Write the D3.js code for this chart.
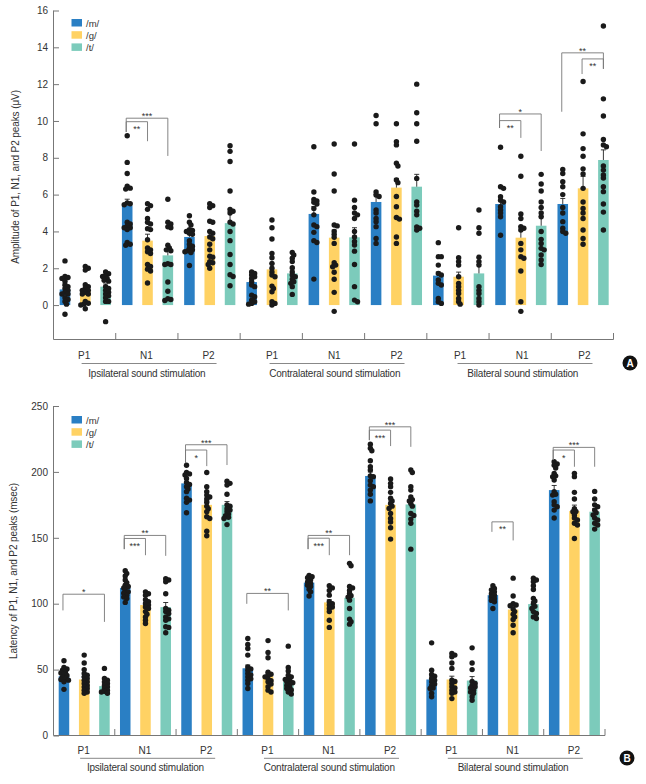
<!DOCTYPE html>
<html>
<head>
<meta charset="utf-8">
<script src="https://cdn.jsdelivr.net/npm/d3@7"></script>
<style>
  html, body { margin: 0; padding: 0; background: #fff; }
  svg { display: block; }
  text { font-family: "Liberation Sans", Arial, sans-serif; fill: #333; }
</style>
</head>
<body>
<svg id="chart" width="646" height="784"></svg>
<script>
const peaks = ["P1", "N1", "P2", "P1 ", "N1 ", "P2 ", "P1  ", "N1  ", "P2  "];
const sounds = ["/m/", "/g/", "/t/"];
const colors = ["#2a7fc4", "#ffd264", "#7ccbbb"];
const stimulations = ["Ipsilateral sound stimulation", "Contralateral sound stimulation", "Bilateral sound stimulation"];

// panel A, mean and SE per peak, [m, g, t]
const ampMeans = [
  [0.85, 0.85, 1.0], [5.4, 3.5, 2.7], [3.7, 3.75, 4.45],
  [1.25, 1.94, 1.72], [4.95, 3.66, 3.68], [5.6, 6.38, 6.43],
  [1.6, 1.54, 1.72], [5.49, 3.66, 4.31], [5.49, 6.34, 7.88]
];
const ampErrors = [
  [0.2, 0.15, 0.15], [0.35, 0.35, 0.3], [0.25, 0.25, 0.65],
  [0.2, 0.32, 0.25], [0.4, 0.42, 0.52], [0.4, 0.5, 0.67],
  [0.2, 0.25, 0.5], [0.25, 0.6, 0.5], [0.3, 0.65, 0.55]
];
const ampPoints = [
  [[2.4, 1.55, 1.5, 1.45, 1.3, 1.1, 1.0, 0.9, 0.8, 0.7, 0.6, 0.6, 0.4, 0.3, 0.2, 0.05, -0.5],
   [2.1, 2.0, 1.9, 1.1, 1.0, 0.9, 0.8, 0.8, 0.7, 0.6, 0.6, 0.2, 0.1, 0.05, 0, -0.2],
   [1.8, 1.7, 1.6, 1.55, 1.45, 1.35, 1.3, 1.0, 0.9, 0.8, 0.7, 0.6, 0.5, 0.4, 0.2, 0.2, -0.9]],
  [[9.2, 7.75, 7.15, 6.45, 6.35, 6.3, 5.55, 5.5, 5.45, 4.5, 4.4, 4.3, 4.2, 4.2, 4.1, 3.4, 3.3, 3.25],
   [5.5, 5.4, 5.2, 4.7, 4.5, 4.4, 4.15, 4.1, 3.55, 3.1, 3.0, 2.9, 2.8, 2.2, 2.1, 1.95, 1.85, 1.2],
   [5.75, 4.5, 4.4, 4.25, 4.2, 3.25, 3.1, 3.0, 2.95, 2.25, 2.2, 2.2, 1.25, 0.75, 0.35, 0.3, 0.25]],
  [[4.85, 4.5, 4.35, 4.1, 4.05, 4, 3.9, 3.85, 3.5, 3.3, 3.2, 3.1, 3, 2.95, 2.9, 2.85, 2.15],
   [5.5, 5.4, 5.3, 4.55, 4.5, 4.0, 3.9, 3.7, 3.6, 3.3, 3.0, 2.65, 2.6, 2.35, 2.3, 2.2, 2.0],
   [8.65, 8.35, 7.8, 6.2, 5.2, 5.1, 5.0, 4.5, 4.4, 4.0, 3.5, 2.75, 2.2, 1.65, 1.55, 1.05]],
  [[1.8, 1.72, 1.63, 1.54, 1.45, 1.27, 1.09, 1.0, 0.54, 0.45, 0.27, 0.18, 0.09, 0.05],
   [4.62, 4.2, 3.59, 2.8, 2.57, 2.26, 2, 1.8, 1.63, 1.54, 1.03, 0.9, 0.72, 0.18, 0.09, 0],
   [2.86, 2.72, 2.54, 2.36, 2.03, 1.8, 1.63, 1.54, 1.4, 1.27, 1.18, 1, 0.58]],
  [[8.6, 6.14, 5.74, 5.65, 5.58, 5.49, 5.25, 4.9, 4.35, 4.26, 3.95, 3.5, 3.4, 1.41],
   [8.75, 7.12, 6.2, 4.35, 4.3, 4, 3.84, 3.68, 3.35, 2.3, 2.17, 2.08, 1.78, 1.4, 0.69, -0.34],
   [8.75, 5.7, 5.3, 5, 4.9, 4.7, 4, 3.7, 3.45, 3.26, 2.93, 2.2, 1, 0.27, 0.18]],
  [[10.3, 9.85, 6.14, 5.98, 5.9, 5.16, 5, 4.7, 4.53, 4.26, 3.62, 3.35],
   [9.85, 8.88, 8.7, 7.7, 7.55, 6.8, 6.65, 5.9, 5.34, 4.76, 4.67, 3.7, 3.35],
   [12, 10.45, 9.85, 8.9, 6.88, 5.6, 5.43, 5.1, 4.9, 4.25, 4.17, 4.08]],
  [[3.39, 2.63, 2.63, 2.17, 1.72, 1.63, 1.36, 1.18, 1.09, 0.36, 0.18, 0.09],
   [4.2, 2.57, 2.36, 2.17, 1.54, 1.18, 1, 0.8, 0.63, 0.36, 0.18, 0.05],
   [5.16, 4.2, 3.9, 2.6, 2.36, 2.17, 1, 0.8, 0.63, 0.36, 0.18, 0]],
  [[8.57, 6.43, 6.34, 5.89, 5.7, 5.6, 5.34, 5.16, 5, 4.8, 3.79],
   [8.08, 7, 4.95, 4.7, 4.26, 4.17, 4.08, 3.35, 3, 2.63, 2.54, 1.85, 0.18, -0.34],
   [7.1, 6.58, 6.2, 5.6, 5.3, 5, 4.8, 4, 3.57, 3.35, 3.08, 3, 2.72, 2.45, 2.2]],
  [[7.37, 7.15, 6.7, 6.43, 6, 5.3, 5, 4.53, 4.17, 4, 3.9],
   [12.14, 9.3, 8.5, 8.08, 7.4, 7.12, 6.34, 5.6, 5.25, 5, 4.7, 4.08, 3.62, 3.3],
   [15.16, 11.2, 10.27, 9, 8.7, 8.6, 7.55, 7.33, 7.07, 6.9, 6.43, 6.16, 5.49, 5.05, 4.08]]
];

// panel B
const latMeans = [
  [45, 42.5, 37.5], [112, 99, 97.4], [191.3, 175, 175],
  [51, 45, 40.7], [116, 101, 104.5], [196.9, 175, 175.3],
  [42.5, 42.5, 41.7], [106.5, 95.6, 99.7], [186.2, 170.3, 169.8]
];
const latErrors = [
  [2, 2, 2], [2, 2, 3.5], [3, 3, 2.5],
  [2.5, 2.5, 2], [1.5, 2, 3], [3, 3, 3],
  [2.5, 2.5, 3], [1.5, 2, 2], [3.5, 4.5, 2.5]
];
const latPoints = [
  [[56.7, 51.6, 50.5, 49.6, 48.3, 47.5, 46.3, 45.5, 44.5, 43.3, 42.5, 42, 40.7, 35],
   [61, 55, 50, 47, 45.8, 44.5, 43.3, 42, 40.7, 39.5, 38, 36.8, 35.7, 34.4, 33, 32],
   [50.9, 43.3, 42, 40.7, 39.5, 38, 37, 35.7, 34.4, 33.5, 33, 32]],
  [[125, 123, 121, 118, 116, 114, 113, 112, 110, 109, 108, 106.5, 105, 104, 101],
   [109, 107.5, 106.5, 103, 101.5, 100, 99, 97.5, 96.4, 94, 92, 90, 87.5, 85],
   [119, 118, 116.6, 107.5, 96.4, 95, 94, 92.5, 90, 88.5, 87.5, 82.5, 82, 78]],
  [[205, 199.6, 198.5, 197.6, 195, 192, 190.5, 188.8, 187, 185, 180, 178.6, 177, 169],
   [199.6, 188.8, 185, 182.4, 181, 179.4, 177, 174, 172, 169.8, 166, 164.7, 155, 151.6],
   [193, 191.3, 190, 183, 175, 174, 172, 171, 169.8, 168, 166.7, 165.5, 164.7, 160]],
  [[73.6, 69, 66, 61, 52, 50.5, 49.6, 47, 46, 44.5, 43, 42, 39.5, 35.7],
   [72, 63, 59, 48, 46.5, 45.8, 44.5, 43, 41.5, 40.7, 39, 37, 34.4, 33],
   [67.8, 51.6, 49, 45.8, 44.5, 43.3, 42.5, 41.5, 40.7, 40, 39, 38, 36.5, 35.7, 34.5, 33, 31.4]],
  [[121.5, 120.5, 119.7, 118, 116.5, 115.4, 114, 113, 111, 109, 105.8],
   [113.6, 112, 110, 106.5, 101.5, 100, 99, 97.5, 96.4, 94, 87.5, 82],
   [130.6, 128.8, 113, 112, 110, 107.8, 106, 105, 102.7, 96.4, 88.3, 86.3, 84.5]],
  [[221, 217.9, 216, 208.5, 204, 201.4, 197, 196.4, 193.3, 190, 188.8, 186.2, 183, 178],
   [194.6, 191.3, 188.8, 184.5, 180, 178, 176, 174, 172.3, 168.5, 164.7, 162, 157.6, 149],
   [201.4, 199.6, 188.8, 186.2, 181, 179, 178, 176, 174, 168.5, 167, 164.2, 161, 141.4]],
  [[70.3, 49.6, 46.3, 45, 43.3, 42, 40.7, 39, 38, 36, 35.7, 32, 29.4],
   [62.2, 61, 59.7, 55, 50.9, 42, 41, 39.5, 37, 36, 34.4, 33, 32, 28],
   [66.5, 55, 50, 41, 39.5, 38, 37, 36, 34.4, 33, 32, 29.4, 26.8]],
  [[113.6, 111.6, 110.5, 109, 107.5, 106.5, 105, 104, 102.5, 101.5, 96.4],
   [119.4, 105.8, 100, 99, 98.4, 96, 94, 92, 90, 88, 83.7, 78],
   [119.4, 118, 116.6, 113.6, 110.8, 104, 102, 100, 98, 96.4, 94, 92.6, 90, 88.8]],
  [[207.7, 206, 205, 203, 198.9, 197, 196.4, 193.8, 185, 183, 182.4, 177.4, 175, 173.6, 171, 165],
   [198.9, 196.4, 184.5, 179.4, 172, 170, 169.8, 167.3, 165, 163.5, 161, 159.7, 149.5],
   [185.2, 179.4, 175, 173.6, 171, 169, 167.3, 165, 163.5, 161, 159.7, 156.6]]
];

// bracket: peak index, from sound, to sound, top value, left leg end, right leg end, stars
const ampBrackets = [
  [1, 0, 2, 10.15, 9.4, 8.1, "***"],
  [1, 0, 1, 9.96, 9.4, 8.9, "**"],
  [7, 0, 2, 10.38, 9.62, 8.37, "*"],
  [7, 0, 1, 10.02, 9.62, 9.08, "**"],
  [8, 0, 2, 13.7, 10.5, 12.83, "**"],
  [8, 1, 2, 13.37, 12.55, 12.83, "**"]
];
const latBrackets = [
  [0, 0, 2, 107.2, 94.9, 86.2, "*"],
  [1, 0, 2, 151.8, 141.4, 136.3, "**"],
  [1, 0, 1, 149.5, 141.4, 136.8, "***"],
  [2, 0, 2, 220.6, 206.7, 205.2, "***"],
  [2, 0, 1, 216.6, 206.7, 204.4, "*"],
  [3, 0, 2, 107.8, 99.9, 94.9, "**"],
  [4, 0, 2, 151.8, 141.4, 136.8, "**"],
  [4, 0, 1, 149.7, 141.4, 136.8, "***"],
  [5, 0, 2, 234.2, 224.1, 219, "***"],
  [5, 0, 1, 231.7, 224.1, 219.6, "***"],
  [7, 0, 1, 162.1, 154.5, 148, "**"],
  [8, 0, 2, 218.6, 209, 203.9, "***"],
  [8, 0, 1, 216.6, 209, 203.9, "*"]
];

const ampTicks = [0, 2, 4, 6, 8, 10, 12, 14, 16];
const latTicks = [0, 50, 100, 150, 200, 250];

const svg = d3.select("svg#chart");
const dotR = 2.7;

// nudge points sideways until they stop sitting on top of each other
function dodge(values, y, cx) {
  let placed = [];
  values.slice().sort((a, b) => b - a).forEach((v) => {
    let py = y(v);
    let tries = [0, 1.5, -1.5, 3, -3, 4.5, -4.5, 6, -6];
    let px = cx;
    for (let t of tries) {
      let free = placed.every((p) => Math.hypot(p.x - (cx + t), p.y - py) >= 2.8);
      if (free) { px = cx + t; break; }
    }
    placed.push({ x: px, y: py });
  });
  return placed;
}

function drawPanel(cfg) {
  let g = svg.append("g");

  let x0 = d3.scaleBand().domain(peaks).range(cfg.xRange);
  let x1 = d3.scaleBand().domain(d3.range(3)).range(cfg.innerRange).paddingInner(0.48);
  let y = d3.scaleLinear().domain(cfg.yDomain).range(cfg.yRange);

  let center = (i, s) => x0(peaks[i]) + x1(s) + x1.bandwidth() / 2;

  // bars
  cfg.means.forEach((row, i) => {
    row.forEach((m, s) => {
      g.append("rect")
        .attr("x", x0(peaks[i]) + x1(s))
        .attr("y", y(m))
        .attr("width", x1.bandwidth())
        .attr("height", y(0) - y(m))
        .attr("fill", colors[s]);
    });
  });

  // error bars
  cfg.means.forEach((row, i) => {
    row.forEach((m, s) => {
      let cx = center(i, s);
      let top = y(m + cfg.errors[i][s]);
      g.append("path")
        .attr("d", "M" + cx + "," + y(m) + "V" + top + "M" + (cx - 2.5) + "," + top + "H" + (cx + 2.5))
        .attr("stroke", "#222")
        .attr("stroke-width", 0.9)
        .attr("fill", "none");
    });
  });

  // points
  cfg.points.forEach((row, i) => {
    row.forEach((vals, s) => {
      g.append("g")
        .selectAll("circle")
        .data(dodge(vals, y, center(i, s)))
        .enter()
        .append("circle")
        .attr("cx", (d) => d.x)
        .attr("cy", (d) => d.y)
        .attr("r", dotR)
        .attr("fill", "#1a1a1a");
    });
  });

  // axes
  let axisColor = "#777";
  let yAxis = g.append("g")
    .attr("transform", "translate(" + cfg.xRange[0] + ",0)")
    .call(d3.axisLeft(y).tickValues(cfg.ticks).tickSize(-5.5).tickPadding(5.5));
  yAxis.select(".domain").attr("d", "M0," + cfg.yRange[0] + "V" + cfg.yRange[1]).attr("stroke", axisColor);
  yAxis.selectAll("line").attr("stroke", axisColor);
  yAxis.selectAll("text").attr("font-size", 10).attr("fill", "#333").style("font-family", '"Liberation Sans"');

  let base = cfg.yRange[0];
  g.append("line")
    .attr("x1", cfg.xRange[0]).attr("x2", cfg.xRange[1])
    .attr("y1", base).attr("y2", base)
    .attr("stroke", axisColor);
  peaks.forEach((p, i) => {
    let tx = x0(p) + x0.bandwidth();
    g.append("line")
      .attr("x1", tx).attr("x2", tx)
      .attr("y1", base).attr("y2", base - 6.5)
      .attr("stroke", axisColor);
    g.append("text")
      .attr("x", x0(p) + x0.bandwidth() / 2 - 0.5 + Math.floor(i / 3) * cfg.groupShift)
      .attr("y", base + cfg.peakLabel)
      .attr("text-anchor", "middle")
      .attr("font-size", 10)
      .text(p.trim());
  });

  // stimulation groups under the axis
  stimulations.forEach((name, k) => {
    let shift = k * cfg.groupShift;
    let a = x0(peaks[k * 3]) + x0.bandwidth() / 2 + cfg.groupInset[0] + shift;
    let b = x0(peaks[k * 3 + 2]) + x0.bandwidth() / 2 + cfg.groupInset[1] + shift;
    let gy = base + cfg.groupLine;
    g.append("line")
      .attr("x1", a).attr("x2", b)
      .attr("y1", gy).attr("y2", gy)
      .attr("stroke", "#888");
    g.append("text")
      .attr("x", x0(peaks[k * 3 + 1]) + x0.bandwidth() / 2 + shift)
      .attr("y", gy + 13)
      .attr("text-anchor", "middle")
      .attr("font-size", 10)
      .attr("letter-spacing", -0.22)
      .text(name);
  });

  // significance brackets
  cfg.brackets.forEach((b) => {
    let xa = center(b[0], b[1]) - 1;
    let xb = center(b[0], b[2]);
    g.append("path")
      .attr("d", "M" + xa + "," + y(b[4]) + "V" + y(b[3]) + "H" + xb + "V" + y(b[5]))
      .attr("fill", "none")
      .attr("stroke", "#777")
      .attr("stroke-width", 0.9);
    let inner = b[2] - b[1] === 1;
    g.append("text")
      .attr("x", (xa + xb) / 2)
      .attr("y", y(b[3]) + (inner ? 10.5 : 1))
      .attr("text-anchor", "middle")
      .attr("font-size", 9)
      .text(b[6]);
  });

  // legend
  sounds.forEach((s, k) => {
    let ly = cfg.legendY + k * 12.2;
    g.append("rect")
      .attr("x", 71.5).attr("y", ly)
      .attr("width", 10.5).attr("height", 7.5)
      .attr("fill", colors[k]);
    g.append("text")
      .attr("x", 86).attr("y", ly + 7.5)
      .attr("font-size", 9.5)
      .text(s);
  });

  // axis title
  g.append("text")
    .attr("transform", "translate(" + cfg.titleX + "," + cfg.titleY + ") rotate(-90)")
    .attr("text-anchor", "middle")
    .attr("font-size", 10)
    .attr("letter-spacing", -0.1)
    .text(cfg.title);

  // panel badge
  g.append("circle")
    .attr("cx", cfg.badge[0]).attr("cy", cfg.badge[1])
    .attr("r", 7.5)
    .attr("fill", "#111");
  g.append("text")
    .attr("x", cfg.badge[0]).attr("y", cfg.badge[1] + 3.6)
    .attr("text-anchor", "middle")
    .attr("font-size", 10)
    .attr("font-weight", "bold")
    .style("fill", "#fff")
    .text(cfg.letter);
}

drawPanel({
  means: ampMeans, errors: ampErrors, points: ampPoints, brackets: ampBrackets, ticks: ampTicks,
  xRange: [53.5, 613.5], innerRange: [6.2, 57.4], yDomain: [-1.87, 16], yRange: [339.5, 10.5],
  peakLabel: 19.5, groupLine: 24, groupInset: [-3, 7.5], groupShift: 1.3, legendY: 19,
  title: "Amplitude of P1, N1, and P2 peaks (μV)",
  titleX: 19, titleY: 177, badge: [630, 363], letter: "A"
});

drawPanel({
  means: latMeans, errors: latErrors, points: latPoints, brackets: latBrackets, ticks: latTicks,
  xRange: [53.5, 605], innerRange: [5.2, 56.2], yDomain: [0, 250], yRange: [735.5, 406],
  peakLabel: 18.5, groupLine: 22.8, groupInset: [-4, 8.5], groupShift: 0, legendY: 416,
  title: "Latency of P1, N1, and P2 peaks (msec)",
  titleX: 17, titleY: 571, badge: [627, 758], letter: "B"
});
</script>
</body>
</html>
